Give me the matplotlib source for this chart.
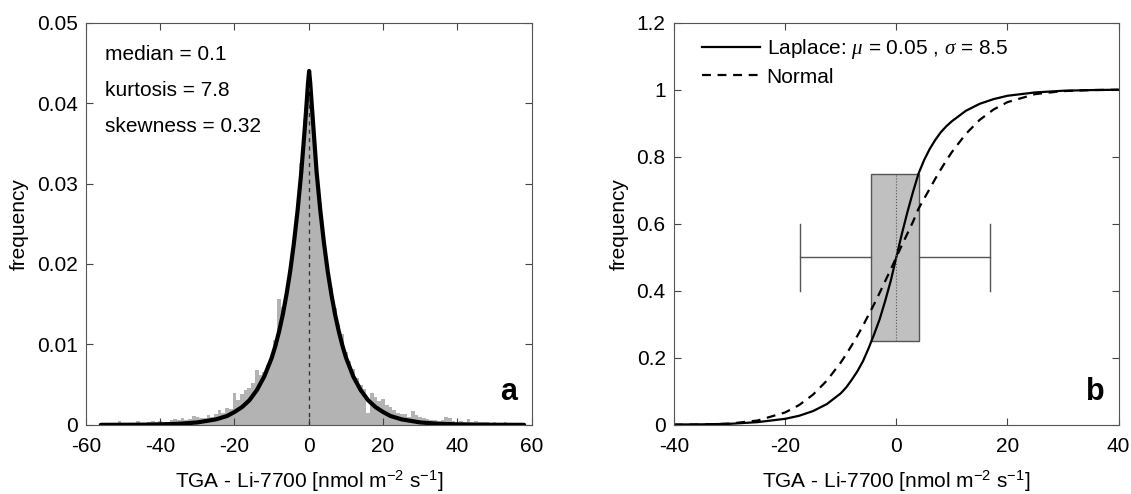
import matplotlib
matplotlib.use("Agg")
import matplotlib.pyplot as plt
from matplotlib.ticker import FuncFormatter

plt.rcParams['font.family'] = ['Liberation Sans', 'DejaVu Sans']
plt.rcParams['mathtext.fontset'] = 'custom'
plt.rcParams['mathtext.rm'] = 'Liberation Sans'
plt.rcParams['mathtext.it'] = 'Liberation Serif:italic'

# --- panel a: histogram of flux differences (bin centres, frequency) ---
hist_x = list(range(-55, 59))
hist_f = [0.1, 0.1, 0.2, 0.1, 0.5, 0.1, 0.2, 0.1, 0.2, 0.5,
          0.2, 0.2, 0.3, 0.5, 0.3, 0.5, 0.3, 0.4, 0.6, 0.7,
          0.6, 0.8, 0.6, 0.7, 1.1, 1.0, 0.8, 0.9, 1.2, 1.0,
          1.3, 1.9, 1.5, 2.1, 2.0, 4.0, 3.1, 3.8, 4.3, 4.6,
          5.2, 6.8, 6.2, 6.6, 7.5, 8.4, 10.5, 15.6, 14.6, 16.5,
          19.3, 23.0, 27.5, 32.5, 38.0, 43.5, 38.5, 32.5, 27.5, 23.0,
          19.5, 17.0, 14.5, 12.5, 11.3, 9.0, 8.0, 7.0, 5.8, 5.0,
          4.5, 1.5, 4.0, 3.5, 3.0, 3.2, 2.5, 2.2, 1.8, 1.5,
          1.4, 1.3, 1.0, 1.7, 1.2, 1.0, 0.8, 0.7, 0.6, 0.6,
          0.5, 0.6, 1.0, 0.9, 0.5, 0.4, 0.5, 0.4, 0.7, 0.3,
          0.5, 0.3, 0.3, 0.4, 0.2, 0.3, 0.2, 0.2, 0.3, 0.1,
          0.1, 0.1, 0.1, 0.1]
hist_f = [v / 1000 for v in hist_f]

# fitted Laplace density
lap_x = [-56, -50, -45, -40, -35, -30, -25, -22, -20, -18, -16, -14, -12, -10,
         -9, -8, -7, -6, -5, -4, -3, -2, -1, -0.5, -0.2, 0.1, 0.4, 0.7, 1.2,
         2.1, 3.1, 4.1, 5.1, 6.1, 7.1, 8.1, 9.1, 10, 12, 14, 16, 18, 20, 22,
         25, 30, 35, 40, 45, 50, 58]
lap_f = [0.0, 0.01, 0.02, 0.06, 0.13, 0.3, 0.68, 1.1, 1.6, 2.2, 3.05, 4.3,
         6.0, 8.3, 9.8, 11.6, 13.7, 16.2, 19.1, 22.6, 26.7, 31.5, 37.3, 40.5,
         42.5, 44.0, 42.5, 40.5, 37.3, 31.5, 26.7, 22.6, 19.1, 16.2, 13.7,
         11.6, 9.8, 8.4, 6.0, 4.3, 3.05, 2.2, 1.6, 1.1, 0.68, 0.3, 0.13, 0.06,
         0.02, 0.01, 0.0]
lap_f = [v / 1000 for v in lap_f]
median = 0.1

# --- panel b: cumulative curves ---
cdf_x = [-40, -35, -30, -25, -20, -17.5, -15, -12.5, -10, -9, -8, -7, -6, -5,
         -4, -3, -2, -1, -0.5, 0, 0.5, 1, 2, 3, 4, 5, 6, 7, 8, 9, 10, 12.5,
         15, 17.5, 20, 25, 30, 35, 40]
cdf_laplace = [0.001, 0.0015, 0.003, 0.008, 0.018, 0.027, 0.041, 0.062,
               0.094, 0.112, 0.135, 0.16, 0.19, 0.228, 0.27, 0.315, 0.37,
               0.43, 0.465, 0.50, 0.535, 0.57, 0.635, 0.695, 0.75, 0.79,
               0.823, 0.85, 0.873, 0.891, 0.906, 0.937, 0.958, 0.972, 0.982,
               0.992, 0.997, 0.999, 1.0]
cdf_normal = [0.0002, 0.0009, 0.0037, 0.0128, 0.037, 0.059, 0.090, 0.132,
              0.186, 0.211, 0.238, 0.266, 0.296, 0.328, 0.360, 0.394, 0.429,
              0.464, 0.482, 0.50, 0.518, 0.536, 0.571, 0.606, 0.645, 0.675,
              0.704, 0.734, 0.762, 0.789, 0.814, 0.868, 0.910, 0.941, 0.963,
              0.987, 0.996, 0.999, 1.0]
box_stats = [dict(med=0.0, q1=-4.6, q3=4.0, whislo=-17.3, whishi=16.8)]

fig = plt.figure(figsize=(11.31, 4.94), dpi=100)
ax1 = fig.add_axes([0.076, 0.140, 0.394, 0.814])
ax2 = fig.add_axes([0.596, 0.140, 0.393, 0.814])

fs = 15

ax1.bar(hist_x, hist_f, width=1.0, color='#b3b3b3', edgecolor='none')
ax1.plot(lap_x, lap_f, color='black', lw=3.0, solid_capstyle='round',
         solid_joinstyle='round')
ax1.plot([median, median], [0, 0.0425], color='#333333', lw=1.0, ls=(0, (3, 3)))
ax1.set_xlim(-60, 60)
ax1.set_ylim(0, 0.05)
ax1.set_xticks([-60, -40, -20, 0, 20, 40, 60])
ax1.set_yticks([0, 0.01, 0.02, 0.03, 0.04, 0.05])
for txt, yy in [('median = 0.1', 0.0460), ('kurtosis = 7.8', 0.0416),
                ('skewness = 0.32', 0.0371)]:
    ax1.text(-55, yy, txt, fontsize=fs, va='center', ha='left')
ax1.text(0.968, 0.045, 'a', transform=ax1.transAxes, fontsize=22,
         fontweight='bold', ha='right', va='bottom')

ax2.bxp(box_stats, positions=[0.5], widths=0.5, vert=False, patch_artist=True,
        showfliers=False, capwidths=0.2,
        boxprops=dict(facecolor='#c0c0c0', edgecolor='#555555', lw=1.0),
        whiskerprops=dict(color='#555555', lw=1.0, ls='-'),
        capprops=dict(color='#555555', lw=1.0),
        medianprops=dict(color='#555555', lw=0.8, ls=':'),
        manage_ticks=False)
ax2.plot(cdf_x, cdf_laplace, color='black', lw=1.6,
         label=r'Laplace: $\mu$ = 0.05 , $\sigma$ = 8.5')
ax2.plot(cdf_x, cdf_normal, color='black', lw=1.6, ls=(0, (4, 3)),
         label='Normal')
ax2.set_xlim(-40, 40)
ax2.set_ylim(0, 1.2)
ax2.set_xticks([-40, -20, 0, 20, 40])
ax2.set_yticks([0, 0.2, 0.4, 0.6, 0.8, 1.0, 1.2])
ax2.legend(loc='upper left', frameon=False, fontsize=fs, handlelength=2.8,
           handletextpad=0.3, labelspacing=0.3, borderaxespad=0.3,
           bbox_to_anchor=(0.03, 1.0))
ax2.text(0.968, 0.045, 'b', transform=ax2.transAxes, fontsize=22,
         fontweight='bold', ha='right', va='bottom')

fmt = FuncFormatter(lambda v, p: '%g' % round(v, 4))
for ax in (ax1, ax2):
    ax.set_xlabel(r'TGA - Li-7700 [nmol m$^{-2}$ s$^{-1}$]', fontsize=fs,
                  labelpad=9)
    ax.set_ylabel('frequency', fontsize=fs, labelpad=6)
    ax.yaxis.set_major_formatter(fmt)
    ax.xaxis.set_major_formatter(fmt)
    ax.tick_params(direction='in', top=True, right=True, length=5,
                   width=0.8, color='#444444', labelsize=fs)
    ax.tick_params(axis='x', pad=9)
    ax.tick_params(axis='y', pad=6)
    for sp in ax.spines.values():
        sp.set_color('#555555')
        sp.set_linewidth(0.8)

fig.savefig('out.png', dpi=100)
